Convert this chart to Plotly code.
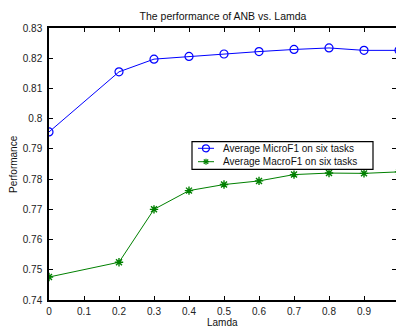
import plotly.graph_objects as go

lamda = [0, 0.2, 0.3, 0.4, 0.5, 0.6, 0.7, 0.8, 0.9, 1.0]
micro_f1 = [0.7956, 0.8155, 0.8197, 0.8206, 0.8214, 0.8222, 0.8229, 0.8234, 0.8226, 0.8226]
macro_f1 = [0.7476, 0.7525, 0.7700, 0.7762, 0.7782, 0.7794, 0.7815, 0.7820, 0.7819, 0.7824]
series_names = ["Average MicroF1 on six tasks", "Average MacroF1 on six tasks"]
x_ticks = [0, 0.1, 0.2, 0.3, 0.4, 0.5, 0.6, 0.7, 0.8, 0.9]
x_tick_labels = ["0", "0.1", "0.2", "0.3", "0.4", "0.5", "0.6", "0.7", "0.8", "0.9"]
y_ticks = [0.74, 0.75, 0.76, 0.77, 0.78, 0.79, 0.80, 0.81, 0.82, 0.83]
y_tick_labels = ["0.74", "0.75", "0.76", "0.77", "0.78", "0.79", "0.8", "0.81", "0.82", "0.83"]

FONT = "Liberation Sans, Arial, Helvetica, sans-serif"
BLUE = "#0000FF"
GREEN = "#008000"

W, H = 396, 327
L, R, T, B = 49, 0, 28, 27
PW, PH = W - L - R, H - T - B


def px(xp):
    return (xp - L) / PW


def py(yp):
    return (H - B - yp) / PH


fig = go.Figure()
fig.add_trace(go.Scatter(
    x=lamda, y=micro_f1, mode="lines+markers", name=series_names[0],
    line=dict(color=BLUE, width=1),
    marker=dict(symbol="circle-open", size=8, color=BLUE, line=dict(width=1.2, color=BLUE)),
    showlegend=False,
))
fig.add_trace(go.Scatter(
    x=lamda, y=macro_f1, mode="lines+markers", name=series_names[1],
    line=dict(color=GREEN, width=1),
    marker=dict(symbol="asterisk-open", size=7, color=GREEN, line=dict(width=1.4, color=GREEN)),
    showlegend=False,
))

axis_common = dict(
    showline=True, linecolor="black", linewidth=1.5, mirror="ticks",
    ticks="inside", ticklen=4, tickwidth=1, tickcolor="black",
    showgrid=False, zeroline=False, automargin=False,
    tickfont=dict(family=FONT, size=10, color="#222"),
)

# manual compact legend (box, sample lines, glyphs, labels)
lx0, lx1, ly0, ly1 = 192, 373, 141.7, 169.3
rows = [148.3, 161.7]
shapes = [dict(type="rect", xref="paper", yref="paper",
               x0=px(lx0), x1=px(lx1), y0=py(ly1), y1=py(ly0),
               line=dict(color="black", width=1.2), fillcolor="white", layer="above")]
annotations = []
colors = [BLUE, GREEN]
for i, yr in enumerate(rows):
    shapes.append(dict(type="line", xref="paper", yref="paper",
                       x0=px(198), x1=px(214), y0=py(yr), y1=py(yr),
                       line=dict(color=colors[i], width=1), layer="above"))
    annotations.append(dict(text=series_names[i], xref="paper", yref="paper",
                            x=px(221), y=py(yr), xanchor="left", yanchor="middle",
                            showarrow=False, font=dict(family=FONT, size=10, color="#111")))
# circle glyph
cx = 206
shapes.append(dict(type="circle", xref="paper", yref="paper",
                   x0=px(cx - 3.5), x1=px(cx + 3.5), y0=py(rows[0] + 3.5), y1=py(rows[0] - 3.5),
                   line=dict(color=BLUE, width=1.2), layer="above"))
# asterisk glyph
for dx, dy in [(3, 0), (0, 3), (2.2, 2.2), (2.2, -2.2)]:
    shapes.append(dict(type="line", xref="paper", yref="paper",
                       x0=px(cx - dx), x1=px(cx + dx), y0=py(rows[1] - dy), y1=py(rows[1] + dy),
                       line=dict(color=GREEN, width=1.2), layer="above"))

annotations += [
    dict(text="Performance", xref="paper", yref="paper", x=px(13), y=0.5,
         textangle=-90, showarrow=False, xanchor="center", yanchor="middle",
         font=dict(family=FONT, size=10, color="#111")),
    dict(text="Lamda", xref="paper", yref="paper", x=px(222), y=py(322.5),
         showarrow=False, xanchor="center", yanchor="middle",
         font=dict(family=FONT, size=10, color="#111")),
]

fig.update_layout(
    template="none",
    width=W, height=H,
    margin=dict(l=L, r=R, t=T, b=B, pad=0),
    paper_bgcolor="white", plot_bgcolor="white",
    showlegend=False,
    title=dict(
        text="The performance of ANB vs. Lamda",
        x=223 / W, xanchor="center", xref="container",
        y=1 - 16 / H, yanchor="middle", yref="container",
        font=dict(family=FONT, size=10.5, color="#111"),
    ),
    xaxis=dict(range=[0, 0.9914], tickvals=x_ticks, ticktext=x_tick_labels,
               ticklabelstandoff=1, **axis_common),
    yaxis=dict(range=[0.74, 0.83], tickvals=y_ticks, ticktext=y_tick_labels,
               ticklabelstandoff=3, **axis_common),
    shapes=shapes,
    annotations=annotations,
)

fig.write_html(
    "out.html",
    config={"displayModeBar": False},
    post_script="document.body.style.margin='0';document.body.style.overflow='hidden';",
)
